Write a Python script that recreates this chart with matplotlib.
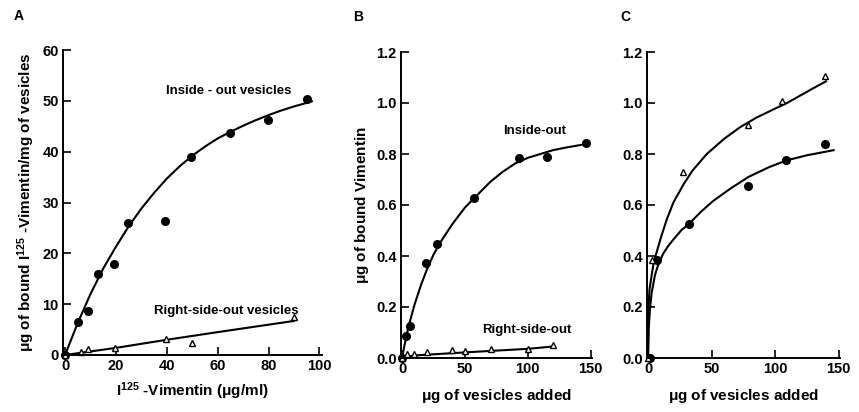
import numpy as np
import matplotlib.pyplot as plt

plt.rcParams['font.family'] = ['Liberation Sans', 'DejaVu Sans']
plt.rcParams['font.weight'] = 'bold'
plt.rcParams['mathtext.default'] = 'regular'

# Panel A data
a_in_x = [0, 5.1, 9, 12.9, 19.2, 24.7, 39.2, 49.4, 64.7, 79.6, 95]
a_in_y = [0, 6.5, 8.6, 16, 17.9, 26, 26.3, 39, 43.6, 46.3, 50.3]
a_out_x = [0, 6.3, 9, 19.6, 39.6, 49.8, 89.8]
a_out_y = [0, 0.6, 1.1, 1.3, 3.2, 2.3, 7.5]
# fitted curves as drawn
a_in_fit_x = [0, 5, 10, 15, 20, 25, 30, 35, 40, 45, 50, 55, 60, 65, 70, 75, 80, 85, 90, 95, 97]
a_in_fit_y = [0, 6.3, 12, 17, 21.3, 25.3, 28.8, 31.9, 34.7, 37.1, 39.2, 41, 42.6, 43.9,
              45.1, 46.2, 47.2, 48.1, 48.9, 49.6, 49.9]
a_out_fit_x = [0, 10, 20, 40, 60, 90]
a_out_fit_y = [0, 0.7, 1.4, 3.0, 4.5, 6.7]

# Panel B data
b_in_x = [0, 3.1, 6.3, 19, 28, 57, 93, 115, 146]
b_in_y = [0, 0.088, 0.127, 0.373, 0.446, 0.627, 0.785, 0.79, 0.842]
b_out_x = [0, 4, 9.5, 20, 40, 50, 71, 100, 120]
b_out_y = [0, 0.015, 0.015, 0.023, 0.03, 0.027, 0.035, 0.035, 0.05]
b_in_fit_x = [0, 2, 5, 10, 15, 20, 25, 30, 40, 50, 60, 70, 80, 90, 100, 110, 120, 130, 145]
b_in_fit_y = [0, 0.05, 0.12, 0.21, 0.285, 0.35, 0.405, 0.45, 0.525, 0.59, 0.64, 0.69,
              0.73, 0.763, 0.785, 0.8, 0.815, 0.825, 0.838]
b_out_fit_x = [0, 10, 50, 100, 120]
b_out_fit_y = [0, 0.01, 0.022, 0.036, 0.045]

# Panel C data
c_tri_x = [0, 3.5, 27.3, 79, 105, 139.4]
c_tri_y = [0, 0.385, 0.73, 0.915, 1.008, 1.104]
c_dot_x = [1.6, 7.3, 32.5, 79, 108.7, 139]
c_dot_y = [0, 0.385, 0.525, 0.674, 0.775, 0.84]
c_tri_fit_x = [0, 0.3, 1.2, 2.9, 4.5, 6.8, 10, 14.7, 20, 27.8, 35, 46.2, 60, 72.4, 85,
               98.7, 110, 120, 130, 140]
c_tri_fit_y = [0, 0.197, 0.27, 0.326, 0.375, 0.415, 0.47, 0.543, 0.61, 0.68, 0.735,
               0.8, 0.86, 0.905, 0.942, 0.975, 1.002, 1.03, 1.058, 1.085]
c_dot_fit_x = [0, 0.6, 1.6, 3, 5.5, 8, 12, 16, 20, 26, 33, 42, 51, 65, 79, 95, 109, 125, 146]
c_dot_fit_y = [0, 0.12, 0.197, 0.26, 0.326, 0.365, 0.41, 0.44, 0.465, 0.5, 0.53, 0.575,
               0.615, 0.665, 0.71, 0.748, 0.775, 0.795, 0.815]

fig = plt.figure(figsize=(8.59, 4.12), dpi=100)

W, H = 859.0, 412.0
def make_ax(x0, x1, y0, y1):
    return fig.add_axes([x0 / W, 1 - y1 / H, (x1 - x0) / W, (y1 - y0) / H])

axA = make_ax(63, 322, 50, 355)
axB = make_ax(401, 592, 52, 358)
axC = make_ax(647, 840, 52, 358)

def style(ax):
    for s in ['top', 'right']:
        ax.spines[s].set_visible(False)
    for s in ['left', 'bottom']:
        ax.spines[s].set_linewidth(1.4)
    ax.tick_params(direction='in', length=6, width=1.2, labelsize=10.5, pad=3)
    for lab in ax.get_xticklabels() + ax.get_yticklabels():
        lab.set_fontweight('bold')

lw = 1.5
ms_dot = 5.5
ms_tri = 4.5

# A
axA.plot(a_in_fit_x, a_in_fit_y, color='black', lw=lw)
axA.plot(a_out_fit_x, a_out_fit_y, color='black', lw=lw)
axA.plot(a_in_x, a_in_y, 'o', color='black', ms=ms_dot)
axA.plot(a_out_x, a_out_y, '^', mfc='white', mec='black', mew=1.0, ms=ms_tri)
axA.set_xlim(-0.8, 101)
axA.set_ylim(0, 60)
axA.set_xticks([0, 20, 40, 60, 80, 100])
axA.set_yticks([0, 10, 20, 30, 40, 50, 60])
style(axA)
axA.set_xlabel(r'I$^{125}$ -Vimentin ($\mu$g/ml)', fontsize=11, fontweight='bold', labelpad=5)
axA.set_ylabel(r'$\mu$g of bound I$^{125}$ -Vimentin/mg of vesicles', fontsize=11,
               fontweight='bold', labelpad=4)
axA.text(39.5, 51.3, 'Inside - out vesicles', fontsize=9.5, fontweight='bold')
axA.text(35, 8.0, 'Right-side-out vesicles', fontsize=9.5, fontweight='bold')
axA.text(-0.19, 1.1, 'A', transform=axA.transAxes, fontsize=10, fontweight='bold')

# B
axB.plot(b_in_fit_x, b_in_fit_y, color='black', lw=lw)
axB.plot(b_out_fit_x, b_out_fit_y, color='black', lw=lw)
axB.plot(b_in_x, b_in_y, 'o', color='black', ms=ms_dot)
axB.plot(b_out_x, b_out_y, '^', mfc='white', mec='black', mew=1.0, ms=ms_tri)
axB.set_xlim(-0.8, 151)
axB.set_ylim(0, 1.2)
axB.set_xticks([0, 50, 100, 150])
axB.set_yticks([0.0, 0.2, 0.4, 0.6, 0.8, 1.0, 1.2])
axB.set_yticklabels(['0.0', '0.2', '0.4', '0.6', '0.8', '1.0', '1.2'])
style(axB)
axB.set_xlabel(r'$\mu$g of vesicles added', fontsize=11, fontweight='bold', labelpad=8)
axB.set_ylabel(r'$\mu$g of bound Vimentin', fontsize=11, fontweight='bold', labelpad=4)
axB.text(80, 0.88, 'Inside-out', fontsize=9.5, fontweight='bold')
axB.text(64, 0.1, 'Right-side-out', fontsize=9.5, fontweight='bold')
axB.text(-0.25, 1.1, 'B', transform=axB.transAxes, fontsize=10, fontweight='bold')

# C
axC.plot(c_tri_fit_x, c_tri_fit_y, color='black', lw=lw)
axC.plot(c_dot_fit_x, c_dot_fit_y, color='black', lw=lw)
axC.plot(c_dot_x, c_dot_y, 'o', color='black', ms=ms_dot)
axC.plot(c_tri_x, c_tri_y, '^', mfc='white', mec='black', mew=1.0, ms=ms_tri)
axC.set_xlim(-0.8, 151)
axC.set_ylim(0, 1.2)
axC.set_xticks([0, 50, 100, 150])
axC.set_yticks([0.0, 0.2, 0.4, 0.6, 0.8, 1.0, 1.2])
axC.set_yticklabels(['0.0', '0.2', '0.4', '0.6', '0.8', '1.0', '1.2'])
style(axC)
axC.set_xlabel(r'$\mu$g of vesicles added', fontsize=11, fontweight='bold', labelpad=8)
axC.text(-0.14, 1.1, 'C', transform=axC.transAxes, fontsize=10, fontweight='bold')

for ax in [axA, axB, axC]:
    for l in ax.lines:
        l.set_clip_on(False)

fig.savefig('out.png', dpi=100)
